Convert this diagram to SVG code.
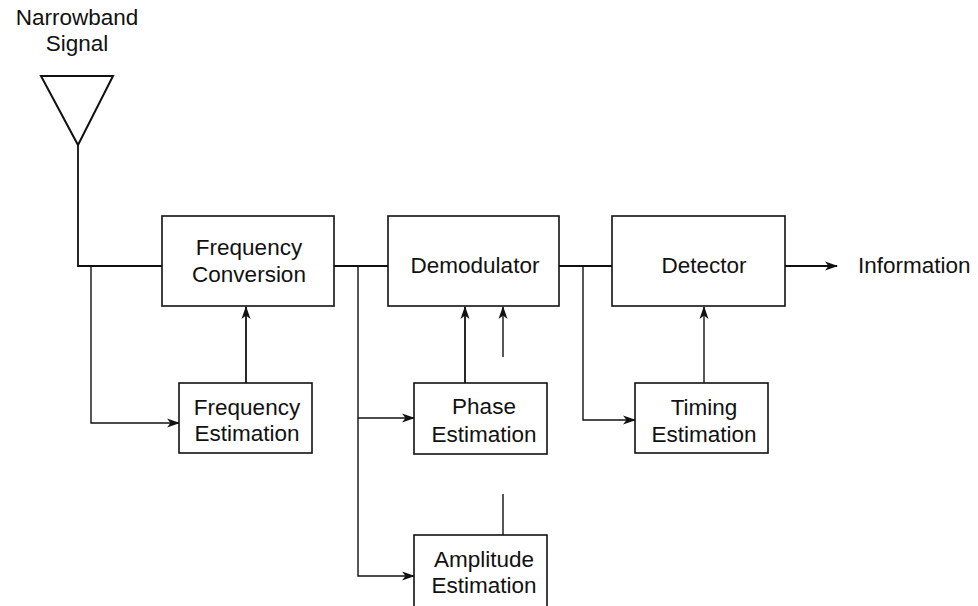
<svg xmlns="http://www.w3.org/2000/svg" width="978" height="606" viewBox="0 0 978 606">
  <style>
    .box { fill: #fff; stroke: #111; stroke-width: 1.6; }
    .wire { fill: none; stroke: #111; stroke-width: 1.8; }
    .thin { fill: none; stroke: #111; stroke-width: 1.4; }
    text { font-family: "Liberation Sans", Arial, sans-serif; font-size: 22.5px; fill: #111; text-anchor: middle; }
  </style>
  <defs>
    <marker id="arr" viewBox="0 0 13 10" refX="12" refY="5" markerWidth="13" markerHeight="10" markerUnits="userSpaceOnUse" orient="auto">
      <path d="M0,0.5 L13,5 L0,9.5 L3.5,5 Z" fill="#111"/>
    </marker>
  </defs>

  <rect width="978" height="606" fill="#fff"/>

  <!-- connectors -->
  <g id="connectors">
    <!-- antenna feed into frequency conversion -->
    <polyline class="wire" points="78,145 78,266 162,266"/>
    <polyline class="thin" points="91,266 91,423 179,423" marker-end="url(#arr)"/>
    <line class="wire" x1="246" y1="383" x2="246" y2="307" marker-end="url(#arr)"/>
    <!-- conversion to demodulator -->
    <line class="wire" x1="334" y1="266" x2="388" y2="266"/>
    <polyline class="thin" points="358,266 358,576 414,576" marker-end="url(#arr)"/>
    <line class="thin" x1="358" y1="418" x2="414" y2="418" marker-end="url(#arr)"/>
    <line class="wire" x1="465" y1="383" x2="465" y2="307" marker-end="url(#arr)"/>
    <line class="thin" x1="503" y1="357" x2="503" y2="307" marker-end="url(#arr)"/>
    <line class="thin" x1="503" y1="494" x2="503" y2="535"/>
    <!-- demodulator to detector -->
    <line class="wire" x1="559" y1="266" x2="612" y2="266"/>
    <polyline class="thin" points="583,266 583,420 635,420" marker-end="url(#arr)"/>
    <line class="thin" x1="704" y1="383" x2="704" y2="307" marker-end="url(#arr)"/>
    <!-- output -->
    <line class="wire" x1="785" y1="266" x2="837" y2="266" marker-end="url(#arr)"/>
  </g>

  <!-- antenna -->
  <g id="antenna">
    <polygon points="41,76 113,76 78,145" fill="none" stroke="#111" stroke-width="2" stroke-linejoin="miter"/>
    <text x="77" y="25">Narrowband</text>
    <text x="77" y="51">Signal</text>
  </g>

  <g id="freq-conversion">
    <rect class="box" x="162" y="216" width="172" height="90"/>
    <text x="249" y="255">Frequency</text>
    <text x="249" y="282">Conversion</text>
  </g>

  <g id="demodulator">
    <rect class="box" x="388" y="216" width="171" height="90"/>
    <text x="475" y="273">Demodulator</text>
  </g>

  <g id="detector">
    <rect class="box" x="612" y="216" width="173" height="90"/>
    <text x="704" y="273">Detector</text>
  </g>

  <g id="information">
    <text x="858" y="273" style="text-anchor:start">Information</text>
  </g>

  <g id="freq-estimation">
    <rect class="box" x="179" y="383" width="133" height="70"/>
    <text x="247" y="415">Frequency</text>
    <text x="247" y="441">Estimation</text>
  </g>

  <g id="phase-estimation">
    <rect class="box" x="414" y="383" width="133" height="71"/>
    <text x="484" y="414">Phase</text>
    <text x="484" y="442">Estimation</text>
  </g>

  <g id="amplitude-estimation">
    <rect class="box" x="414" y="535" width="133" height="80"/>
    <text x="484" y="567">Amplitude</text>
    <text x="484" y="593">Estimation</text>
  </g>

  <g id="timing-estimation">
    <rect class="box" x="635" y="383" width="133" height="70"/>
    <text x="704" y="415">Timing</text>
    <text x="704" y="442">Estimation</text>
  </g>
</svg>
